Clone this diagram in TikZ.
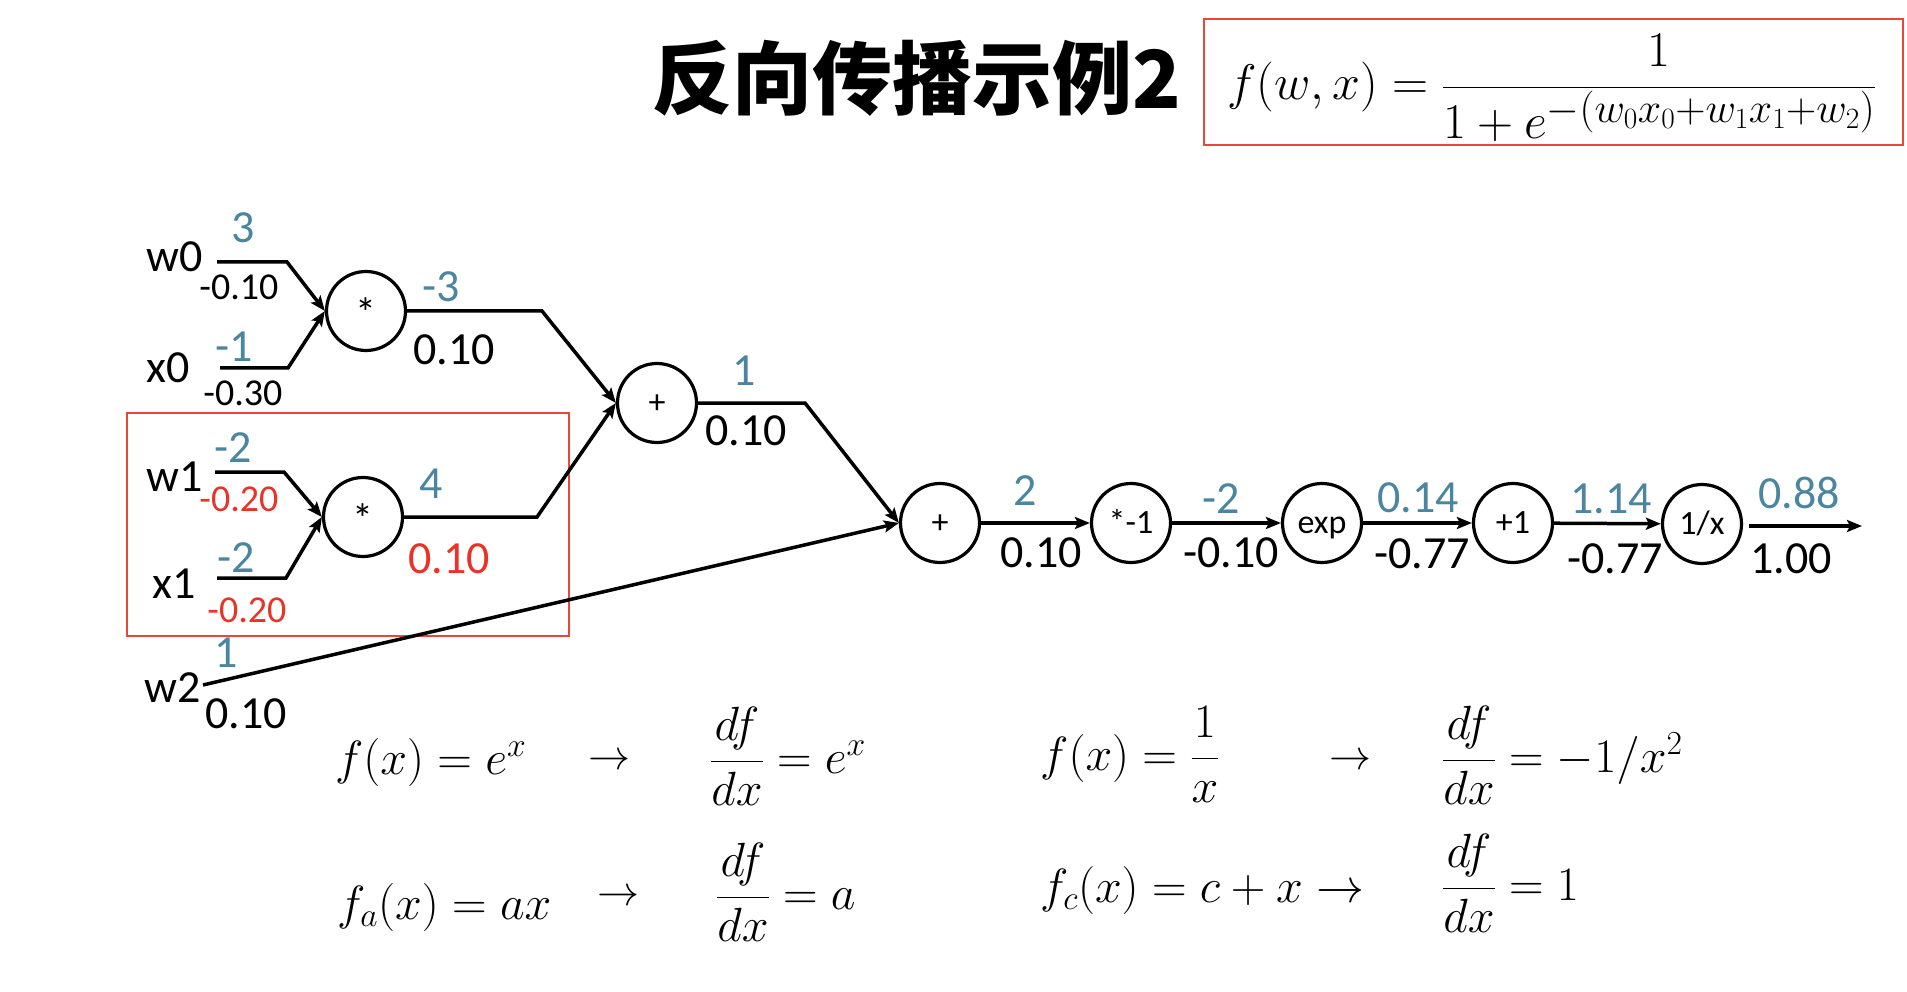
\RequirePackage{fix-cm}
\documentclass[tikz,border=0pt]{standalone}
\usepackage{amsmath}
\usepackage[no-math]{fontspec}
\setmainfont{Carlito}
\newfontfamily\cjk{Noto Sans CJK SC}
\usetikzlibrary{arrows.meta}
\definecolor{gblue}{RGB}{74,134,160}
\definecolor{gred}{RGB}{232,52,40}
\definecolor{boxred}{RGB}{232,72,60}
\begin{document}
\begin{tikzpicture}[x=1pt,y=-1pt,
  op/.style={circle,draw,line width=3.2pt,minimum size=79pt,inner sep=0pt,text height=24pt,text depth=3pt,font=\fontsize{34}{36}\selectfont},
  arr/.style={line width=3.5pt,-{Stealth[length=15pt,width=12pt,inset=3pt]}},
  lbl/.style={inner sep=0pt,anchor=base,font=\fontsize{46}{50}\selectfont},
  small/.style={inner sep=0pt,anchor=base,font=\fontsize{38}{42}\selectfont},
  bval/.style={lbl,text=gblue},
  rsmall/.style={small,text=gred},
  eq/.style={inner sep=0pt,anchor=base west,font=\fontsize{48}{52}\selectfont},
  eqc/.style={inner sep=0pt,font=\fontsize{42}{46}\selectfont},
  redbox/.style={draw=boxred,line width=2pt},
]
\useasboundingbox (0,0) rectangle (1907,992);

% title and formula
\node[inner sep=0pt,font=\cjk\bfseries\fontsize{80}{90}\selectfont] (title) at (917,78) {反向传播示例2};
\draw[redbox] (1204,19) rectangle (1903,145);
\node[inner sep=0pt,anchor=base west,font=\fontsize{50}{54}\selectfont] (formula) at (1227,100)
  {$f(w,x)=\dfrac{1}{1+e^{\mbox{\fontsize{42}{46}\selectfont$-(w_0x_0{+}w_1x_1{+}w_2)$}}}$};

% red box around second multiply
\draw[redbox] (127,413) rectangle (569,636);

% operation nodes
\node[op,font=\fontsize{42}{44}\selectfont] (m1) at (366,311) {\raisebox{-6pt}{*}};
\node[op,font=\fontsize{42}{44}\selectfont] (m2) at (363,517) {\raisebox{-6pt}{*}};
\node[op] (a1) at (657,403) {+};
\node[op] (a2) at (940,523) {+};
\node[op] (neg) at (1131,523) {*-1};
\node[op] (ex) at (1322,523) {exp};
\node[op] (p1) at (1513,523) {+1};
\node[op] (inv) at (1702,524) {1/x};

% wire coordinates
\coordinate (w0s) at (217,262); \coordinate (w0k) at (287,262);
\coordinate (x0s) at (220,368); \coordinate (x0k) at (288,368);
\coordinate (w1s) at (215,472); \coordinate (w1k) at (284,472);
\coordinate (x1s) at (217,578); \coordinate (x1k) at (286,578);
\coordinate (w2s) at (203,685);
\coordinate (m1k) at (542,311);
\coordinate (m2k) at (537,517);
\coordinate (a1k) at (805,403);
\coordinate (outs) at (1749,526); \coordinate (oute) at (1862,526);

% connectors
\draw[arr] (w0s) -- (w0k) -- (m1.west);
\draw[arr] (x0s) -- (x0k) -- (m1.west);
\draw[arr] (w1s) -- (w1k) -- (m2.west);
\draw[arr] (x1s) -- (x1k) -- (m2.west);
\draw[arr] (m1.east) -- (m1k) -- (a1.west);
\draw[arr] (m2.east) -- (m2k) -- (a1.west);
\draw[arr] (a1.east) -- (a1k) -- (a2.west);
\draw[arr] (w2s) -- (a2.west);
\draw[arr] (a2) -- (neg);
\draw[arr] (neg) -- (ex);
\draw[arr] (ex) -- (p1);
\draw[arr] (p1) -- (inv);
\draw[arr] (outs) -- (oute);

% input names
\node[lbl] (nw0) at (175,272) {w0};
\node[lbl] (nx0) at (168,382) {x0};
\node[lbl] (nw1) at (175,491) {w1};
\node[lbl] (nx1) at (174,598) {x1};
\node[lbl] (nw2) at (173,702) {w2};

% forward values (blue)
\node[bval] (v3) at (243,243) {3};
\node[bval] (vm1) at (234,362) {-1};
\node[bval] (vm2a) at (233,462) {-2};
\node[bval] (vm2b) at (236,572) {-2};
\node[bval] (v1w2) at (226,667) {1};
\node[bval] (vm3) at (441,302) {-3};
\node[bval] (v4) at (431,498) {4};
\node[bval] (v1) at (744,385) {1};
\node[bval] (v2) at (1025,505) {2};
\node[bval] (vn2) at (1221,513) {-2};
\node[bval] (v014) at (1418,512) {0.14};
\node[bval] (v114) at (1611,513) {1.14};
\node[bval] (v088) at (1799,508) {0.88};

% gradients
\node[small] (gw0) at (239,300) {-0.10};
\node[small] (gx0) at (243,405) {-0.30};
\node[rsmall] (gw1) at (239,511) {-0.20};
\node[rsmall] (gx1) at (247,622) {-0.20};
\node[lbl] (gw2) at (246,728) {0.10};
\node[lbl] (gm1) at (454,364) {0.10};
\node[lbl,text=gred] (gm2) at (449,573) {0.10};
\node[lbl] (ga1) at (746,445) {0.10};
\node[lbl] (ga2) at (1041,567) {0.10};
\node[lbl] (gneg) at (1231,567) {-0.10};
\node[lbl] (gex) at (1422,568) {-0.77};
\node[lbl] (gp1) at (1615,573) {-0.77};
\node[lbl] (ginv) at (1791,573) {1.00};

% derivative rules
\node[eq] (e1) at (335,774) {$f(x) = e^x$};
\node[eqc] (ar1) at (609,762) {$\rightarrow$};
\node[eq] (d1) at (710,773) {$\dfrac{df}{dx} = e^x$};
\node[eq] (e2) at (1040,770) {$f(x) = \dfrac{1}{x}$};
\node[eqc] (ar2) at (1350,762) {$\rightarrow$};
\node[eq] (d2) at (1442,772) {$\dfrac{df}{dx} = -1/x^2$};
\node[eq] (e3) at (337,919) {$f_a(x) = ax$};
\node[eqc] (ar3) at (618,898) {$\rightarrow$};
\node[eq] (d3) at (716,909) {$\dfrac{df}{dx} = a$};
\node[eq] (e4) at (1040,902) {$f_c(x) = c + x \rightarrow$};
\node[eq] (d4) at (1442,900) {$\dfrac{df}{dx} = 1$};
\end{tikzpicture}
\end{document}
